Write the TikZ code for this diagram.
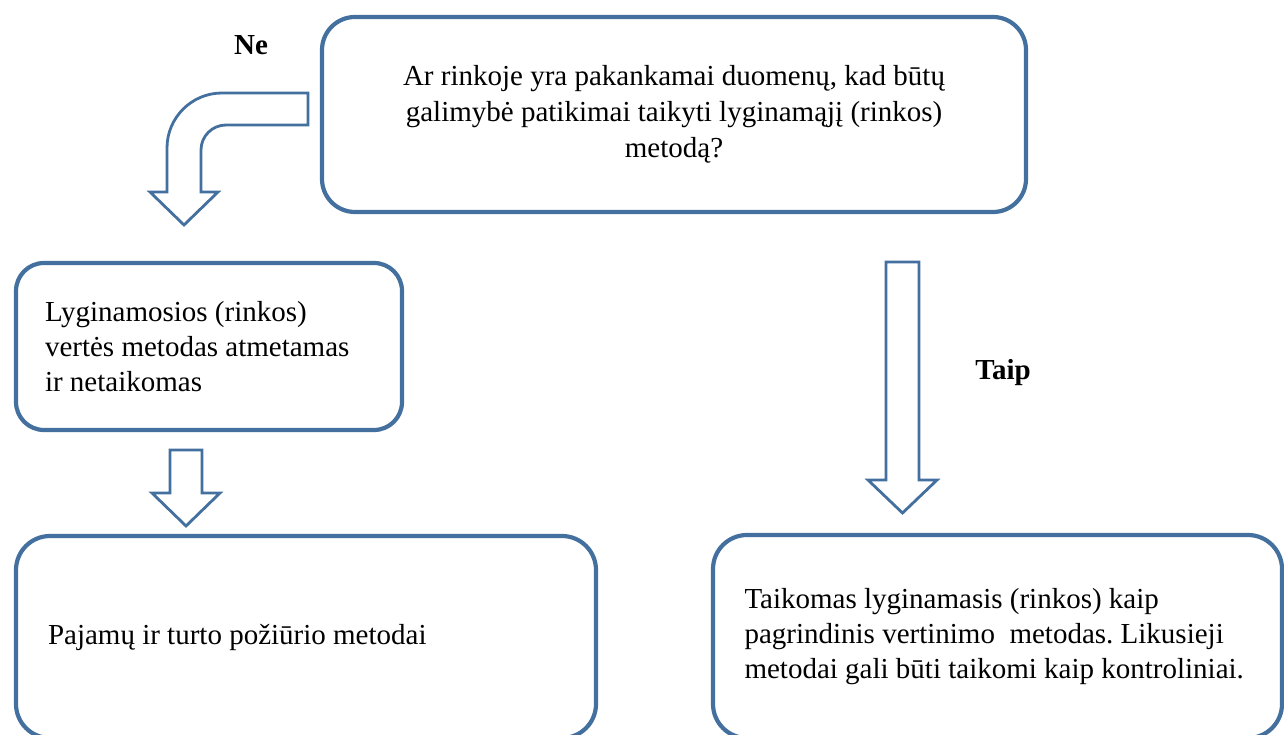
\documentclass[tikz,border=0pt]{standalone}
\usepackage{fontspec}
\setmainfont{Liberation Serif}
\frenchspacing
\definecolor{frameblue}{RGB}{67,112,158}
\tikzset{
  stepbox/.style={draw=frameblue, line width=4.2pt, fill=white, inner sep=0pt,
    font=\fontsize{29}{35}\selectfont,
    execute at begin node={\spaceskip=0pt\xspaceskip=0pt\relax}},
  blockarrow/.style={draw=frameblue, line width=2.8pt, fill=white, line join=miter},
  answer/.style={font=\fontsize{29}{35}\selectfont\bfseries, inner sep=0pt},
}
% downward block arrow: centre x, shaft top, head base, tip, shaft half width, head half width
\newcommand\downblock[6]{%
  \draw[blockarrow] (#1-#5,#2) -- (#1+#5,#2) -- (#1+#5,#3) -- (#1+#6,#3)
    -- (#1,#4) -- (#1-#6,#3) -- (#1-#5,#3) -- cycle;}
\begin{document}
\begin{tikzpicture}[x=1pt,y=1pt]
\useasboundingbox (0,0) rectangle (1284,734);
\clip (0,0) rectangle (1284,734);

% question box
\node[stepbox, rounded corners=33pt, minimum width=704pt, minimum height=195pt,
      align=center, font=\fontsize{29}{36}\selectfont] (q) at (674,619.5)
  {Ar rinkoje yra pakankamai duomenų, kad būtų\\
   galimybė patikimai taikyti lyginamąjį (rinkos)\\
   metodą?};

% "no" branch
\node[stepbox, rounded corners=28pt, minimum width=386pt, minimum height=167pt,
      text width=328pt, align=left] (rej) at (209,387.5)
  {\mbox{Lyginamosios (rinkos)}\\
   \mbox{vertės metodas atmetamas}\\
   \mbox{ir netaikomas}};

\node[stepbox, rounded corners=34pt, minimum width=580pt, minimum height=202pt,
      text width=516pt, align=left] (alt) at (306,97)
  {\mbox{Pajamų ir turto požiūrio metodai}};

% "yes" branch
\node[stepbox, rounded corners=34pt, minimum width=569pt, minimum height=203pt,
      text width=506pt, align=left] (yes) at (997.5,97.5)
  {\mbox{Taikomas lyginamasis (rinkos) kaip}\\
   \mbox{pagrindinis vertinimo\ \ metodas. Likusieji}\\
   \mbox{metodai gali būti taikomi kaip kontroliniai.}};

% answer labels
\node[answer] (ne) at (251,689) {Ne};
\node[answer] (taip) at (1003,361) {Taip};

% bent block arrow from the question towards the "no" branch
\draw[blockarrow] (308,641) -- (222,641)
  arc[start angle=90, end angle=180, radius=55pt] -- (167,542) -- (150,542)
  -- (184,509) -- (218,542) -- (201,542) -- (201,584)
  arc[start angle=180, end angle=90, radius=25pt] -- (308,609) -- cycle;

% straight block arrows
\downblock{186}{284}{241}{208}{16}{34}
\downblock{902.5}{472}{254}{221}{16.5}{34.5}
\end{tikzpicture}
\end{document}
